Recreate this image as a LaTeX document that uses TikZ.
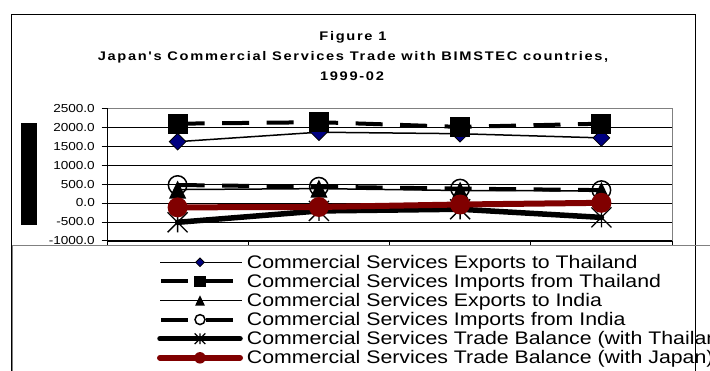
\documentclass[tikz,border=0pt]{standalone}
\usepackage{fontspec}
\setmainfont{Liberation Sans}[FakeStretch=1.17]
\newfontfamily\titlefont{Liberation Sans}[FakeStretch=1.17,LetterSpace=13.5]
\definecolor{navyblue}{RGB}{0,0,128}
\definecolor{maroonred}{RGB}{128,0,0}
\definecolor{framegray}{RGB}{128,128,128}
\usetikzlibrary{shapes.geometric}
\tikzset{
  titletext/.style={font=\titlefont\bfseries\fontsize{12.5}{15}\selectfont, inner sep=0pt},
  ticklabel/.style={font=\fontsize{11.6}{13}\selectfont, anchor=east, inner sep=0pt},
  legtext/.style={font=\fontsize{18.2}{20}\selectfont, anchor=base west, inner sep=0pt},
  gridline/.style={black, line width=0.8pt},
  thinser/.style={black, line width=1.5pt, line join=round},
  dashser/.style={black, line width=4pt, dash pattern=on 27pt off 17.5pt},
  balblack/.style={black, line width=5.5pt, line join=round, line cap=round},
  balred/.style={maroonred, line width=6pt, line join=round, line cap=round},
  dmark/.style={diamond, draw=black, fill=navyblue, line width=0.8pt, inner sep=0pt, minimum width=#1, minimum height=#1},
  smark/.style={rectangle, fill=black, inner sep=0pt, minimum size=#1},
  omark/.style={circle, draw=black, line width=1.5pt, inner sep=0pt, minimum size=#1},
  rmark/.style={circle, fill=maroonred, inner sep=0pt, minimum size=#1},
  pics/trimark/.style={code={\fill[black] (0,-#1) -- (0.95*#1,#1) -- (-0.95*#1,#1) -- cycle;}},
  pics/astmark/.style={code={\draw[black, line width=1.3pt] (0,-#1) -- (0,#1) (-#1,-#1) -- (#1,#1) (-#1,#1) -- (#1,-#1);}}
}
\begin{document}
\begin{tikzpicture}[x=1pt,y=-1pt]
\useasboundingbox (0,0) rectangle (710,370);
\clip (0,0) rectangle (710,370);
\fill[white] (0,0) rectangle (710,370);
% outer frame
\draw[black, line width=1pt] (11,372) -- (11,14) -- (695.7,14) -- (695.7,372);
% title
\node[titletext, anchor=base] (t1) at (353,40.7) {Figure 1};
\node[titletext, anchor=base] (t2) at (353,60.7) {Japan's Commercial Services Trade with BIMSTEC countries,};
\node[titletext, anchor=base] (t3) at (352,80) {1999-02};
% axis title bar
\fill[black] (21,123.3) rectangle (36.7,225);
% plot area
\begin{scope}[shift={(0,203)}, y=0.03785pt]
  \foreach \v in {-500,0,...,2000} \draw[gridline] (107,\v) -- (672,\v);
  \draw[framegray, line width=1pt] (107,2500) -- (672,2500) -- (672,-1000);
  \foreach \v/\t [count=\i] in {2500/2500.0,2000/2000.0,1500/1500.0,1000/1000.0,500/500.0,0/0.0,-500/-500.0,-1000/-1000.0} {
    \draw[black, line width=0.8pt] (101.7,\v) -- (107,\v);
    \node[ticklabel] (ytl\i) at (95,\v) {\t};
  }
  \draw[black, line width=1pt] (107,2500) -- (107,-1000);
  \draw[black, line width=1.6pt] (107,-1000) -- (672,-1000);
  % data points
  \coordinate (a1) at (177.6,1620); \coordinate (a2) at (318.9,1870); \coordinate (a3) at (460.1,1830); \coordinate (a4) at (601.4,1720);
  \coordinate (b1) at (177.6,2095); \coordinate (b2) at (318.9,2135); \coordinate (b3) at (460.1,2010); \coordinate (b4) at (601.4,2095);
  \coordinate (c1) at (177.6,355);  \coordinate (c2) at (318.9,380);  \coordinate (c3) at (460.1,330);  \coordinate (c4) at (601.4,320);
  \coordinate (d1) at (177.6,475);  \coordinate (d2) at (318.9,430);  \coordinate (d3) at (460.1,380);  \coordinate (d4) at (601.4,340);
  \coordinate (e1) at (177.6,-510); \coordinate (e2) at (318.9,-210); \coordinate (e3) at (460.1,-165); \coordinate (e4) at (601.4,-380);
  \coordinate (f1) at (177.6,-115); \coordinate (f2) at (318.9,-105); \coordinate (f3) at (460.1,-40);  \coordinate (f4) at (601.4,5);
\end{scope}
\foreach \x in {107,248.25,389.5,530.75,672} \draw[black, line width=0.8pt] (\x,240.85) -- (\x,245);
% series 1: exports to Thailand
\draw[thinser] (a1) -- (a2) -- (a3) -- (a4);
\foreach \k in {1,...,4} \node[dmark=17pt] (ma\k) at (a\k) {};
% series 2: imports from Thailand
\draw[dashser] (b1) -- (b2) -- (b3) -- (b4);
\foreach \k in {1,...,4} \node[smark=20pt] (mb\k) at (b\k) {};
% series 3: exports to India
\draw[thinser] (c1) -- (c2) -- (c3) -- (c4);
\foreach \k in {1,...,4} \pic at (c\k) {trimark=9};
% series 4: imports from India
\draw[dashser] (d1) -- (d2) -- (d3) -- (d4);
\foreach \k in {1,...,4} \node[omark=18.5pt] (md\k) at (d\k) {};
% series 5: trade balance with Thailand
\draw[balblack] (e1) -- (e2) -- (e3) -- (e4);
\foreach \k in {1,...,4} \pic at (e\k) {astmark=10};
% series 6: trade balance
\draw[balred] (f1) -- (f2) -- (f3) -- (f4);
\foreach \k in {1,...,4} \node[rmark=20pt] (mf\k) at (f\k) {};
% legend box
\draw[framegray, line width=1pt] (12,372) -- (12,245) -- (712,245);
% legend entries
\coordinate (la1) at (160,262.3); \coordinate (la2) at (241.7,262.3); \coordinate (lam) at (200,262.3);
\coordinate (lb1) at (161,281.4); \coordinate (lb2) at (241.7,281.4); \coordinate (lbm) at (200,281.4);
\coordinate (lc1) at (160,300.5); \coordinate (lc2) at (241.7,300.5); \coordinate (lcm) at (200,300.5);
\coordinate (ld1) at (161,319.6); \coordinate (ld2) at (241.7,319.6); \coordinate (ldm) at (200,319.6);
\coordinate (le1) at (160,338.7); \coordinate (le2) at (240,338.7); \coordinate (lem) at (200,338.7);
\coordinate (lf1) at (160,357.8); \coordinate (lf2) at (240,357.8); \coordinate (lfm) at (200,357.8);
\draw[thinser] (la1) -- (la2); \node[dmark=9pt] (lma) at (lam) {};
\draw[dashser] (lb1) -- (lb2); \node[smark=11.5pt] (lmb) at (lbm) {};
\draw[thinser] (lc1) -- (lc2); \pic at (lcm) {trimark=5.2};
\draw[dashser] (ld1) -- (ld2); \node[omark=10pt] (lmd) at (ldm) {};
\draw[balblack] (le1) -- (le2); \pic at (lem) {astmark=5.3};
\draw[balred] (lf1) -- (lf2); \node[rmark=11.5pt] (lmf) at (lfm) {};
\node[legtext] (lt1) at (246.7,268.3) {Commercial Services Exports to Thailand};
\node[legtext] (lt2) at (246.7,287.4) {Commercial Services Imports from Thailand};
\node[legtext] (lt3) at (246.7,306.5) {Commercial Services Exports to India};
\node[legtext] (lt4) at (246.7,325.6) {Commercial Services Imports from India};
\node[legtext] (lt5) at (246.7,344.7) {Commercial Services Trade Balance (with Thailand)};
\node[legtext] (lt6) at (246.7,363.8) {Commercial Services Trade Balance (with Japan)};
\end{tikzpicture}
\end{document}
